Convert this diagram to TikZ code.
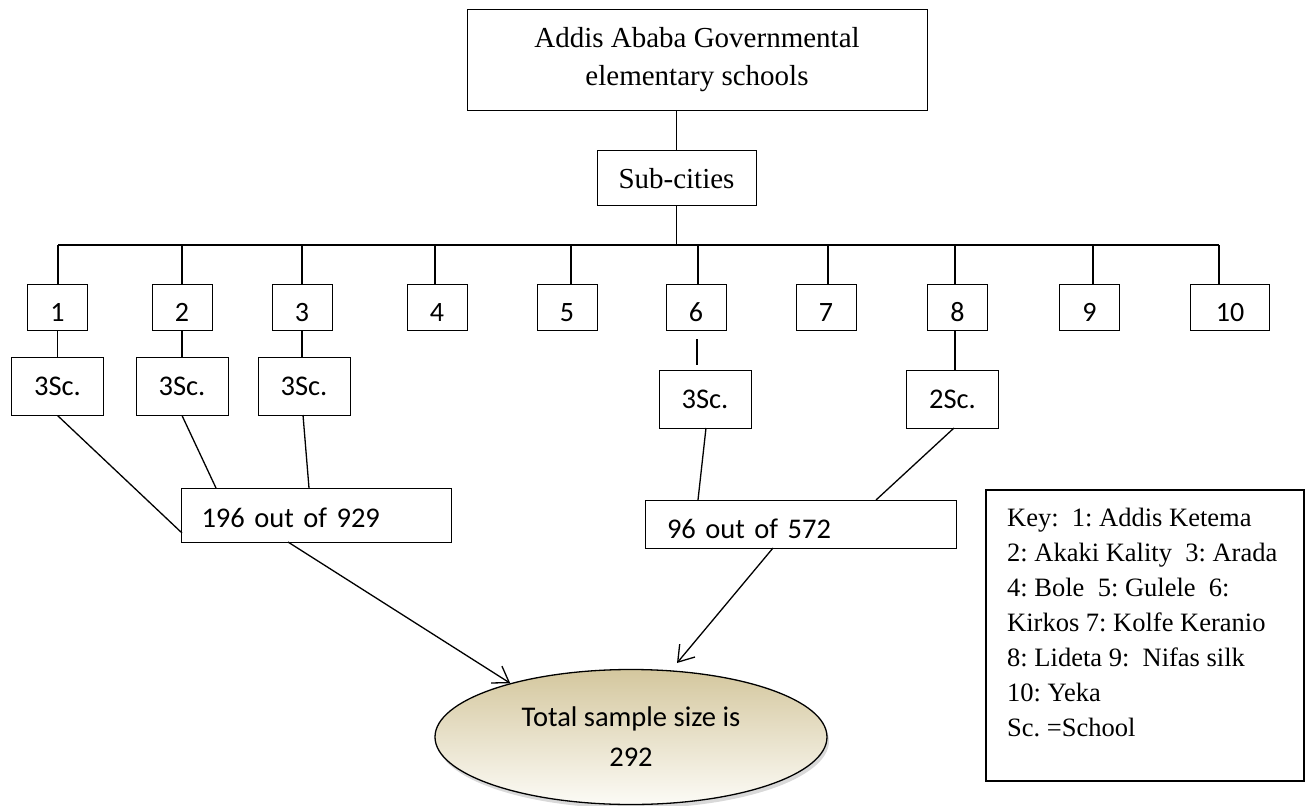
\documentclass[tikz,border=0pt]{standalone}
\usepackage{fontspec}
\setmainfont{Liberation Serif}
\newfontfamily\carl{Carlito}
\usetikzlibrary{arrows.meta,shadows,shapes.geometric}
\definecolor{elltop}{RGB}{212,199,158}
\definecolor{ellbot}{RGB}{252,251,246}
\frenchspacing
\begin{document}
\begin{tikzpicture}[x=1pt,y=-1pt,
  box/.style={draw=black,line width=1pt,inner sep=0pt,rectangle},
  numbox/.style={box,minimum width=60pt,minimum height=46pt,font=\carl\fontsize{28}{30}\selectfont,text height=28pt,text depth=0pt},
  scbox/.style={box,minimum width=92pt,minimum height=58pt,font=\carl\fontsize{28.5}{30}\selectfont},
  conn/.style={line width=1.3pt},
  arr/.style={conn,-{Straight Barb[length=15pt,width=20pt,line width=1.3pt]}},
]
\useasboundingbox (0,0) rectangle (1307,806);

% top levels
\node[box,minimum width=460pt,minimum height=101pt,align=center,font=\fontsize{29}{38.5}\selectfont] (top) at (697,59.5) {Addis Ababa Governmental\\elementary schools};
\node[box,minimum width=159pt,minimum height=55pt,font=\fontsize{29}{34}\selectfont,text height=22pt,text depth=0pt] (subc) at (676.5,177.5) {Sub-cities};

% drop points on the bar
\foreach \i/\x in {1/58,2/182,3/302,4/435,5/571,6/698,7/828,8/955,9/1093,10/1219}
  \coordinate (d\i) at (\x,245);

% numbered boxes
\foreach \i/\x in {1/57.5,2/182,3/302,4/437,5/567,6/696,7/826,8/957.5,9/1089.5}
  \node[numbox] (n\i) at (\x,307) {\i};
\node[numbox,minimum width=79pt] (n10) at (1230,307) {10};

\draw[conn] (subc.north) -- (subc.north |- top.south);
\draw[conn] (subc.south) -- (subc.south |- d1);
\draw[conn] (d1) -- (d10);
\foreach \i in {1,...,10}
  \draw[conn] (d\i) -- (d\i |- n\i.north);

% school boxes
\node[scbox] (s1) at (57.5,386) {3Sc.};
\node[scbox] (s2) at (182,386) {3Sc.};
\node[scbox] (s3) at (304,386) {3Sc.};
\node[scbox] (s6) at (705,399) {3Sc.};
\node[scbox] (s8) at (952.5,399) {2Sc.};

\draw[conn] (n1.south) -- (n1.south |- s1.north);
\draw[conn] (n2.south) -- (n2.south |- s2.north);
\draw[conn] (n3.south) -- (n3.south |- s3.north);
\coordinate (g6a) at (697,339);
\coordinate (g6b) at (697,365);
\draw[conn] (g6a) -- (g6b);
\draw[conn] (d8 |- n8.south) -- (d8 |- s8.north);

% sample boxes
\node[box,minimum width=270pt,minimum height=54pt,text width=230pt,inner xsep=20pt,align=left,
      font=\carl\fontsize{28.5}{30}\selectfont,text height=24pt,text depth=0pt] (a1) at (316.5,515) {196 out of 929};
\node[box,minimum width=311pt,minimum height=48pt,text width=267pt,inner xsep=22pt,align=left,
      font=\carl\fontsize{28.5}{30}\selectfont,text height=28pt,text depth=0pt] (a2) at (800.5,524) {96 out of 572};

\coordinate (c1) at (182,533);
\coordinate (c2) at (216,488);
\coordinate (c3) at (309,488);
\coordinate (c6) at (698,500);
\coordinate (c8) at (876,500);
\coordinate (b1) at (288,542);
\coordinate (b2) at (773,548);
\coordinate (t2) at (677,663);

\draw[conn] (s1.south) -- (c1);
\draw[conn] (s2.south) -- (c2);
\draw[conn] (303,415) -- (c3);
\draw[conn] (706,428) -- (c6);
\draw[conn] (954,428) -- (c8);

% total
\node[ellipse,draw=black,line width=1.3pt,minimum width=392pt,minimum height=135pt,inner sep=0pt,
      top color=elltop,bottom color=ellbot,
      drop shadow={shadow xshift=2pt,shadow yshift=-4pt,opacity=0.3},
      align=center,font=\carl\fontsize{28.5}{40}\selectfont] (ell) at (631,737) {Total sample size is\\292};

\draw[arr] (b1) -- (ell.156);
\draw[arr] (b2) -- (t2);

% key
\node[box,minimum width=318pt,minimum height=291pt,line width=1.3pt] (keybox) at (1145,635.5) {};
\node[anchor=north west,align=left,inner sep=0pt,font=\fontsize{26.5}{35}\selectfont] (keytxt) at (1007,508)
 {Key:\ \ 1: Addis Ketema\\
  2: Akaki Kality\ \ 3: Arada\\
  4: Bole\ \ 5: Gulele\ \ 6:\\
  Kirkos 7: Kolfe Keranio\\
  8: Lideta 9:\ \ Nifas silk\\
  10: Yeka\\
  Sc. =School};
\end{tikzpicture}
\end{document}
